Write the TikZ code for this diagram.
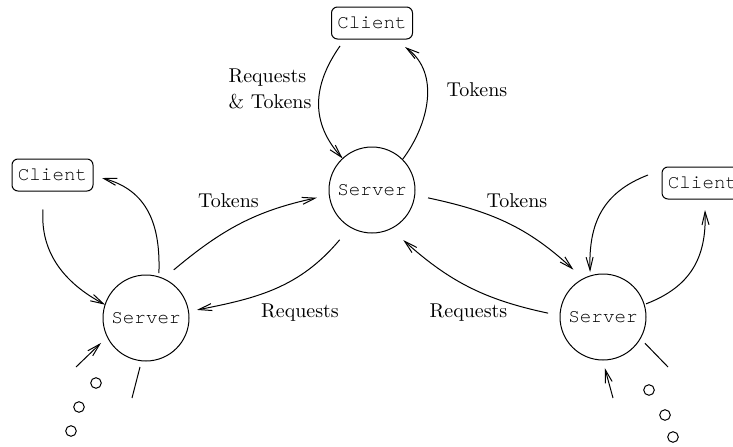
\documentclass[tikz,border=0pt]{standalone}
\usepackage{fontspec}
\usepackage{tkz-graph}
\usetikzlibrary{arrows.meta}
\newfontfamily\cursorfont{TeX Gyre Cursor}

\begin{document}
\begin{tikzpicture}[x=0.5pt,y=0.5pt,line width=0.5pt,
                >={Straight Barb[length=6.5pt,width=3.5pt]},
                flow/.style={->},
                server/.style={shape=circle,draw,line width=0.5pt,minimum size=43pt,inner sep=0pt,font=\cursorfont\fontsize{9.6}{11}\selectfont},
                client/.style={shape=rectangle,draw,line width=0.5pt,rounded corners=3pt,minimum width=40.5pt,minimum height=16pt,inner sep=0pt,font=\cursorfont\fontsize{9.6}{11}\selectfont},
                dot/.style={shape=circle,draw,minimum size=5.3pt,inner sep=0pt},
                tag/.style={inner sep=1pt}]
                \GraphInit[vstyle=Normal]
                \useasboundingbox (0,0) rectangle (733,446);

                \tikzset{VertexStyle/.style={server}}
                \Vertex[x=372 ,y=256,L=Server]{S0}
                \Vertex[x=146 ,y=128,L=Server]{S1}
                \Vertex[x=603 ,y=129,L=Server]{S2}

                \tikzset{VertexStyle/.style={client}}
                \Vertex[x=372 ,y=423,L=Client]{C0}
                \Vertex[x=52.5 ,y=271,L=Client]{C1}
                \Vertex[x=702.5 ,y=263,L=Client]{C2}

                \draw[flow,looseness=1.1] ([shift={(-16pt,-3.5pt)}]C0.south) to[out=235,in=132] (S0.133);
                \node[tag,align=left] (reqtok) at (270,357) {Requests\\[1pt]\& Tokens};

                \draw[flow] (S0.45) to[out=53,in=324] ([shift={(16.5pt,-4pt)}]C0.south);
                \node[tag] (tokC0) at (477,356) {Tokens};

                \draw[flow] ([shift={(60:27.8pt)}]S1.center) to[out=40,in=192] ([shift={(188:27.8pt)}]S0.center);
                \node[tag] (tokS1) at (228.5,245) {Tokens};

                \draw[flow] ([shift={(237:29.7pt)}]S0.center) to[out=230,in=11] ([shift={(9:25.8pt)}]S1.center);
                \node[tag] (reqS1) at (300,133) {Requests};

                \draw[flow] ([shift={(-8:28.3pt)}]S0.center) to[out=-12,in=137] ([shift={(122:27.9pt)}]S2.center);
                \node[tag] (tokS2) at (517,245) {Tokens};

                \draw[flow] ([shift={(176:27.5pt)}]S2.center) to[out=168,in=-42] ([shift={(-58:29.5pt)}]S0.center);
                \node[tag] (reqS2) at (468.5,133) {Requests};

                \draw[flow] ([shift={(-4.75pt,-9.25pt)}]C1.south) to[out=266,in=152] (S1.162);
                \draw[flow,looseness=1.1] ([shift={(74:23.4pt)}]S1.center) to[out=88,in=345] ([shift={(4.5pt,-1.5pt)}]C1.east);

                \draw[flow,looseness=1.1] ([shift={(-7pt,4pt)}]C2.west) to[out=201,in=92] ([shift={(106:23.4pt)}]S2.center);
                \draw[flow,looseness=1.1] ([shift={(17:22.5pt)}]S2.center) to[out=21,in=272] ([shift={(1.25pt,-5.5pt)}]C2.south);

                \coordinate (inS1) at (76,79);
                \coordinate (outS1) at (132,48);
                \draw[flow] (inS1) -- ([shift={(209:25.7pt)}]S1.center);
                \draw ([shift={(263:24.7pt)}]S1.center) -- (outS1);
                \node[dot] (dl1) at (96,63) {};
                \node[dot] (dl2) at (79,39) {};
                \node[dot] (dl3) at (71,15) {};

                \coordinate (inS2) at (613,48);
                \coordinate (outS2) at (668,79);
                \draw[flow] (inS2) -- ([shift={(272:25.5pt)}]S2.center);
                \draw ([shift={(-32:24.7pt)}]S2.center) -- (outS2);
                \node[dot] (dr1) at (649,56) {};
                \node[dot] (dr2) at (665,31) {};
                \node[dot] (dr3) at (673,9) {};

                \end{tikzpicture}
\end{document}
